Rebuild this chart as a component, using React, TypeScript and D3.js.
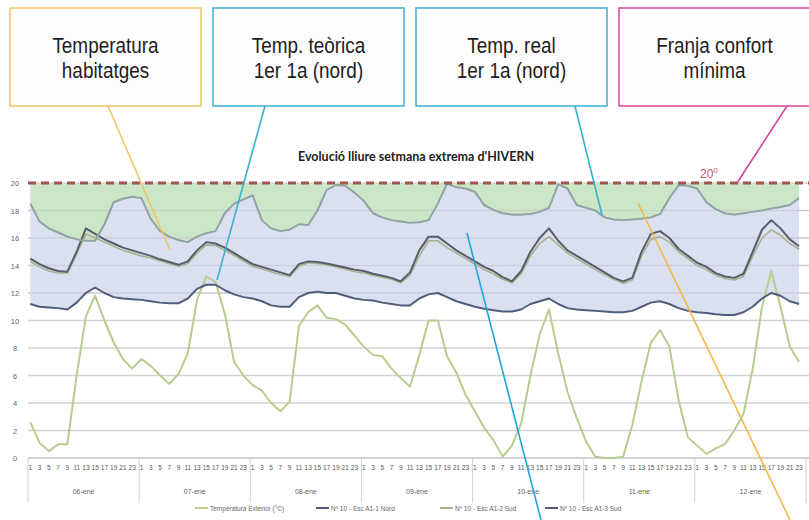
import { useRef, useEffect } from "react";
import * as d3 from "d3";

const days = ["06-ene", "07-ene", "08-ene", "09-ene", "10-ene", "11-ene", "12-ene"];
const hourTicks = [1, 3, 5, 7, 9, 11, 13, 15, 17, 19, 21, 23];
const yTicks = [0, 2, 4, 6, 8, 10, 12, 14, 16, 18, 20];

// one value every 2 hours (hours 1, 3, 5 ... 23 of each day)
const exterior = [
  2.6, 1.1, 0.5, 1.0, 1.0, 6.0, 10.3, 11.8, 10.0, 8.4, 7.2, 6.5,
  7.2, 6.7, 6.0, 5.4, 6.1, 7.6, 11.5, 13.2, 12.8, 10.5, 7.0, 6.0,
  5.3, 4.9, 4.0, 3.4, 4.1, 9.6, 10.6, 11.1, 10.2, 10.1, 9.7, 8.9,
  8.1, 7.5, 7.4, 6.5, 5.8, 5.2, 7.5, 10.0, 10.0, 7.4, 6.2, 4.6,
  3.4, 2.2, 1.3, 0.1, 0.9, 2.5, 6.0, 9.0, 10.8, 7.6, 4.8, 2.9,
  1.2, 0.1, 0.0, 0.0, 0.1, 2.4, 5.6, 8.4, 9.3, 8.1, 4.2, 1.5,
  0.9, 0.3, 0.7, 1.0, 2.0, 3.2, 6.5, 11.0, 13.6, 11.0, 8.1, 7.0,
];

// Nº 10 - Esc A1-1 Nord (temp. teòrica)
const nord11 = [
  11.2, 11.0, 10.95, 10.9, 10.8, 11.3, 12.0, 12.4, 12.0, 11.7, 11.6, 11.55,
  11.5, 11.4, 11.3, 11.25, 11.25, 11.6, 12.3, 12.6, 12.6, 12.2, 11.9, 11.7,
  11.6, 11.4, 11.1, 11.0, 11.0, 11.7, 12.0, 12.1, 12.0, 12.0, 11.8, 11.6,
  11.5, 11.45, 11.3, 11.2, 11.1, 11.1, 11.6, 11.9, 12.0, 11.7, 11.4, 11.2,
  11.0, 10.85, 10.75, 10.65, 10.65, 10.8, 11.2, 11.4, 11.6, 11.2, 10.9, 10.8,
  10.75, 10.7, 10.65, 10.6, 10.6, 10.7, 11.0, 11.3, 11.4, 11.2, 10.9, 10.7,
  10.6, 10.55, 10.45, 10.4, 10.4, 10.6, 11.0, 11.6, 12.0, 11.8, 11.4, 11.2,
];

// Nº 10 - Esc A1-2 Sud
const sud12 = [
  14.3, 13.9, 13.6, 13.45, 13.45, 14.8, 16.3, 16.0, 15.7, 15.4, 15.1, 14.9,
  14.7, 14.55, 14.35, 14.15, 13.95, 14.15, 14.9, 15.5, 15.45, 15.1, 14.75, 14.35,
  13.95, 13.75, 13.55, 13.35, 13.2, 13.95, 14.2, 14.15, 14.05, 13.9, 13.75, 13.55,
  13.45, 13.3, 13.15, 13.0, 12.75, 13.3, 14.7, 15.8, 15.8, 15.3, 14.9, 14.5,
  14.1, 13.7, 13.4, 13.0, 12.75, 13.4, 14.7, 15.6, 16.1, 15.5, 14.9, 14.5,
  14.1, 13.7, 13.35, 13.0, 12.7, 12.95, 14.7, 15.9, 16.1, 15.7, 15.0, 14.5,
  14.0, 13.7, 13.3, 13.05, 12.95, 13.2, 14.7, 16.0, 16.6, 16.2, 15.6, 15.2,
];

// Nº 10 - Esc A1-3 Sud
const sud13 = [
  14.5, 14.1, 13.8, 13.6, 13.55, 15.0, 16.7, 16.3, 15.9, 15.6, 15.3, 15.1,
  14.9, 14.7, 14.45, 14.25, 14.05, 14.3, 15.1, 15.7, 15.6, 15.3, 14.9, 14.5,
  14.1, 13.9, 13.7, 13.5, 13.3, 14.1, 14.3, 14.25, 14.15, 14.0, 13.85, 13.7,
  13.6, 13.4, 13.25, 13.1, 12.85, 13.5, 15.1, 16.1, 16.1, 15.6, 15.1, 14.7,
  14.3, 13.9, 13.6, 13.15, 12.85, 13.6, 15.0, 16.0, 16.7, 15.8, 15.1, 14.7,
  14.3, 13.9, 13.5, 13.1, 12.85, 13.1, 15.0, 16.3, 16.5, 16.0, 15.2, 14.7,
  14.2, 13.9, 13.45, 13.2, 13.1, 13.4, 15.0, 16.6, 17.3, 16.7, 15.9, 15.4,
];

// temp. real 1er 1a (nord)
const realNord = [
  18.5, 17.2, 16.7, 16.4, 16.1, 15.9, 15.8, 15.8, 17.0, 18.6, 18.85, 19.0,
  18.9, 17.4, 16.5, 16.1, 15.85, 15.7, 16.1, 16.35, 16.5, 17.8, 18.5, 18.8,
  19.1, 17.3, 16.7, 16.5, 16.6, 17.0, 16.95, 18.0, 19.5, 19.85, 19.8, 19.3,
  18.7, 17.8, 17.5, 17.3, 17.2, 17.1, 17.15, 17.3, 18.5, 19.95, 19.7, 19.6,
  19.35, 18.4, 18.05, 17.8, 17.7, 17.7, 17.75, 17.9, 18.2, 19.9, 19.6, 18.4,
  18.2, 18.0, 17.5, 17.35, 17.3, 17.35, 17.4, 17.5, 17.75, 18.9, 19.85, 19.8,
  19.6, 18.6, 18.1, 17.8, 17.7, 17.8, 17.9, 18.0, 18.15, 18.25, 18.4, 18.9,
];

const confort = 20;

const legendItems = [
  { label: "Temperatura Exterior (°C)", color: "#b9cc8f" },
  { label: "Nº 10 - Esc A1-1 Nord", color: "#4f5d7c" },
  { label: "Nº 10 - Esc A1-2 Sud", color: "#a9b08f" },
  { label: "Nº 10 - Esc A1-3 Sud", color: "#585d6a" },
];

const callouts = [
  { lines: ["Temperatura", "habitatges"], color: "#f1c466" },
  { lines: ["Temp. teòrica", "1er 1a (nord)"], color: "#3cb0cf" },
  { lines: ["Temp. real", "1er 1a (nord)"], color: "#3cb0cf" },
  { lines: ["Franja confort", "mínima"], color: "#d6469c" },
];

export default function App() {
  const svgRef = useRef<SVGSVGElement>(null);

  useEffect(() => {
    if (!svgRef.current) return;
    const width = 809;
    const height = 520;
    const svg = d3.select(svgRef.current);
    svg.selectAll("*").remove();
    svg.attr("width", width).attr("height", height);

    const x = d3.scaleLinear().domain([0, 168]).range([28, 806]);
    const y = d3.scaleLinear().domain([0, 20]).range([458, 183]);
    const px = (_: number, i: number) => x(i * 2 + 0.5);

    svg.append("rect").attr("width", width).attr("height", height).attr("fill", "#ffffff");

    // grid
    svg
      .selectAll(".grid")
      .data(yTicks)
      .enter()
      .append("line")
      .attr("x1", 28)
      .attr("x2", width)
      .attr("y1", (d) => y(d))
      .attr("y2", (d) => y(d))
      .attr("stroke", "#d3d3d3")
      .attr("stroke-width", 1.5);

    // bands
    const green = d3
      .area<number>()
      .x(px)
      .y0(y(confort))
      .y1((d) => y(d));
    svg.append("path").attr("d", green(realNord)).attr("fill", "#c6e3c2").attr("opacity", 0.9);

    const blue = d3
      .area<number>()
      .x(px)
      .y0((_, i) => y(nord11[i]))
      .y1((d) => y(d));
    svg.append("path").attr("d", blue(realNord)).attr("fill", "#d3daec").attr("opacity", 0.85);

    // grid again, faint, over the bands
    svg
      .selectAll(".grid2")
      .data(yTicks.filter((d) => d > 10 && d < 20))
      .enter()
      .append("line")
      .attr("x1", 28)
      .attr("x2", width)
      .attr("y1", (d) => y(d))
      .attr("y2", (d) => y(d))
      .attr("stroke", "#c9c4cc")
      .attr("stroke-width", 1.2)
      .attr("opacity", 0.6);

    // y labels
    svg
      .selectAll(".ylab")
      .data(yTicks)
      .enter()
      .append("text")
      .attr("x", 15)
      .attr("y", (d) => y(d) + 3)
      .attr("text-anchor", "middle")
      .attr("fill", "#666")
      .attr("font-family", "Liberation Sans, Arial, sans-serif")
      .attr("font-size", 7.5)
      .text((d) => d);

    // x axis
    svg.append("line").attr("x1", 28).attr("x2", width).attr("y1", y(0)).attr("y2", y(0)).attr("stroke", "#c8c8c8");
    svg
      .selectAll(".div")
      .data(d3.range(0, 8))
      .enter()
      .append("line")
      .attr("x1", (d) => x(d * 24))
      .attr("x2", (d) => x(d * 24))
      .attr("y1", y(0))
      .attr("y2", 503)
      .attr("stroke", "#d2d2d2");

    days.forEach((day, di) => {
      svg
        .selectAll(`.h${di}`)
        .data(hourTicks)
        .enter()
        .append("text")
        .attr("x", (h) => x(di * 24 + h - 0.5))
        .attr("y", 470)
        .attr("text-anchor", "middle")
        .attr("fill", "#555")
        .attr("font-family", "Liberation Sans, Arial, sans-serif")
        .attr("font-size", 6.5)
        .text((h) => h);
      svg
        .append("text")
        .attr("x", x(di * 24 + 12))
        .attr("y", 494)
        .attr("text-anchor", "middle")
        .attr("fill", "#666")
        .attr("font-family", "Liberation Sans, Arial, sans-serif")
        .attr("font-size", 7)
        .text(day);
    });

    // lines
    const line = d3
      .line<number>()
      .x(px)
      .y((d) => y(d));
    const series = [
      { data: exterior, color: "#b9cc8f", w: 2 },
      { data: nord11, color: "#4f5d7c", w: 2 },
      { data: sud12, color: "#a9b08f", w: 1.6 },
      { data: sud13, color: "#585d6a", w: 2 },
      { data: realNord, color: "#8fa3a2", w: 2 },
    ];
    series.forEach((s) => {
      svg
        .append("path")
        .attr("d", line(s.data))
        .attr("fill", "none")
        .attr("stroke", s.color)
        .attr("stroke-width", s.w)
        .attr("stroke-linejoin", "round");
    });

    // comfort line
    svg
      .append("line")
      .attr("x1", 28)
      .attr("x2", width)
      .attr("y1", y(confort))
      .attr("y2", y(confort))
      .attr("stroke", "#9e5650")
      .attr("stroke-width", 3)
      .attr("stroke-dasharray", "8,5");
    const t20 = svg
      .append("text")
      .attr("x", 700)
      .attr("y", y(confort) - 5)
      .attr("fill", "#c5566e")
      .attr("font-family", "Liberation Sans, Arial, sans-serif")
      .attr("font-size", 12)
      .text("20");
    t20.append("tspan").attr("dy", -5).attr("font-size", 8).text("0");

    // title
    svg
      .append("text")
      .attr("x", 416)
      .attr("y", 161)
      .attr("text-anchor", "middle")
      .attr("fill", "#222")
      .attr("font-family", "Lato, Open Sans, sans-serif")
      .attr("font-weight", "bold")
      .attr("font-size", 12.5)
      .text("Evolució lliure setmana extrema d'HIVERN");

    // legend
    const legX = [195, 316, 440, 545];
    legendItems.forEach((l, i) => {
      svg
        .append("line")
        .attr("x1", legX[i])
        .attr("x2", legX[i] + 13)
        .attr("y1", 508)
        .attr("y2", 508)
        .attr("stroke", l.color)
        .attr("stroke-width", 2);
      svg
        .append("text")
        .attr("x", legX[i] + 15)
        .attr("y", 510.5)
        .attr("fill", "#666")
        .attr("font-family", "Liberation Sans, Arial, sans-serif")
        .attr("font-size", 6.5)
        .text(l.label);
    });

    // callout boxes
    const boxX = [10, 213, 416, 619];
    callouts.forEach((c, i) => {
      svg
        .append("rect")
        .attr("x", boxX[i])
        .attr("y", 8)
        .attr("width", 191)
        .attr("height", 98)
        .attr("fill", "#fdfdfd")
        .attr("stroke", c.color)
        .attr("stroke-width", 1.5);
      c.lines.forEach((t, j) => {
        svg
          .append("text")
          .attr("transform", `translate(${boxX[i] + 95.5},${53 + j * 25}) scale(0.88,1)`)
          .attr("text-anchor", "middle")
          .attr("fill", "#1e1e1e")
          .attr("font-family", "Liberation Sans, Arial, sans-serif")
          .attr("font-size", 21.5)
          .text(t);
      });
    });

    // pointers
    const pointers = [
      { p: [108, 106, 170, 250], color: "#f1c466" },
      { p: [265, 106, 217, 280], color: "#3cb0cf" },
      { p: [575, 106, 602, 215], color: "#3cb0cf" },
      { p: [787, 106, 737, 183], color: "#d6469c" },
      { p: [467, 233, 541, 520], color: "#1fa6dc" },
      { p: [638, 203, 790, 520], color: "#f1b94a" },
    ];
    pointers.forEach((q) => {
      svg
        .append("line")
        .attr("x1", q.p[0])
        .attr("y1", q.p[1])
        .attr("x2", q.p[2])
        .attr("y2", q.p[3])
        .attr("stroke", q.color)
        .attr("stroke-width", 1.6);
    });
  }, []);

  return (
    <div style={{ position: "absolute", left: 0, top: 0 }}>
      <svg ref={svgRef} />
    </div>
  );
}
